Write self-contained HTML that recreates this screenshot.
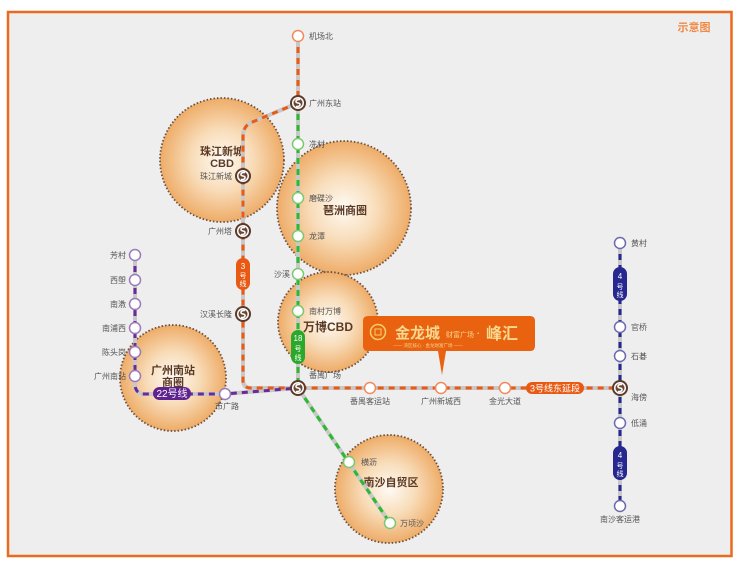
<!DOCTYPE html>
<html><head><meta charset="utf-8"><style>
html,body{margin:0;padding:0;background:#fff;}
svg{display:block}
text{font-family:"Liberation Sans","Noto Sans CJK SC",sans-serif;}
</style></head><body>
<svg width="740" height="566" viewBox="0 0 740 566" xmlns="http://www.w3.org/2000/svg">
<defs>
<radialGradient id="g" cx="50%" cy="50%" r="50%">
<stop offset="0" stop-color="#fefaf5"/>
<stop offset="0.5" stop-color="#f8dcb8"/>
<stop offset="1" stop-color="#eeac68"/>
</radialGradient>
<g id="ix"><circle r="8" fill="#5b3a29"/><circle r="6" fill="#fff"/><circle r="4.5" fill="#6b4633"/><path d="M2,-3.5 C-3,-4 -3,0 0,0 C3,0 3,4 -2,3.5" stroke="#fff" stroke-width="1.6" fill="none"/></g>
</defs>
<rect x="8" y="12" width="723.5" height="544" fill="#eeeeee" stroke="#ea6a1f" stroke-width="2.5"/>
<text x="694" y="31" font-size="11" fill="#f08a45" text-anchor="middle" font-weight="bold">示意图</text>

<g stroke="#6b5040" stroke-width="1.8" stroke-dasharray="1.5 2" fill="url(#g)">
<circle cx="222" cy="160" r="62"/>
<circle cx="344" cy="208" r="67"/>
<circle cx="328" cy="322" r="50"/>
<circle cx="173" cy="378" r="53"/>
<circle cx="389" cy="489" r="54"/>
</g>
<g font-weight="bold" fill="#5a3a25" font-size="11" text-anchor="middle">
<text x="222" y="155">珠江新城</text><text x="222" y="167">CBD</text>
<text x="345" y="214">琶洲商圈</text>
<text x="328" y="331" font-size="12">万博CBD</text>
<text x="173" y="374">广州南站</text><text x="173" y="386">商圈</text>
<text x="391" y="486">南沙自贸区</text>
</g>

<g stroke="#c8c8c8" stroke-width="4" fill="none">
<path d="M298,36 V388 L390,523"/>
<path d="M298,103 L250,123 Q243,127 243,137 V380 Q243,388 251,388 H620"/>
<path d="M135,255 V384 Q135,394 145,394 H225 L298,388"/>
<path d="M620,243 V506"/>
</g>
<g fill="none" stroke-width="3" stroke-dasharray="6 5">
<path d="M298,36 V103" stroke="#ea5a14"/>
<path d="M298,103 L250,123 Q243,127 243,137 V380 Q243,388 251,388 H620" stroke="#ea5a14"/>
<path d="M298,103 V388 L390,523" stroke="#2eb82e"/>
<path d="M135,255 V384 Q135,394 145,394 H225 L298,388" stroke="#6a2a9a"/>
<path d="M620,243 V506" stroke="#26288f"/>
</g>

<g fill="#fff" text-anchor="middle">
<rect x="236" y="258" width="14" height="32" rx="7" fill="#e85a14"/>
<text x="243" y="269" font-size="8">3</text>
<text x="243" y="278" font-size="7">号</text>
<text x="243" y="286" font-size="7">线</text>
<rect x="291" y="330" width="14" height="34" rx="7" fill="#2aa82a"/>
<text x="298" y="341" font-size="8">18</text>
<text x="298" y="351" font-size="7">号</text>
<text x="298" y="360" font-size="7">线</text>
<rect x="153" y="387" width="38" height="13" rx="6.5" fill="#5f2390"/>
<text x="172" y="397" font-size="10">22号线</text>
<rect x="526" y="382" width="58" height="12" rx="6" fill="#e85a14"/>
<text x="555" y="391.5" font-size="9">3号线东延段</text>
<rect x="613" y="267" width="14" height="34" rx="7" fill="#26288f"/>
<text x="620" y="279" font-size="8">4</text>
<text x="620" y="289" font-size="7">号</text>
<text x="620" y="297" font-size="7">线</text>
<rect x="613" y="446" width="14" height="34" rx="7" fill="#26288f"/>
<text x="620" y="458" font-size="8">4</text>
<text x="620" y="468" font-size="7">号</text>
<text x="620" y="476" font-size="7">线</text>
</g>

<g fill="#fff" stroke-width="1.5">
<circle cx="298" cy="36" r="5.5" stroke="#f08a5a"/>
<circle cx="370" cy="388" r="5.5" stroke="#f08a5a"/>
<circle cx="441" cy="388" r="5.5" stroke="#f08a5a"/>
<circle cx="505" cy="388" r="5.5" stroke="#f08a5a"/>
<g stroke="#7cc870">
<circle cx="298" cy="144" r="5.5"/><circle cx="298" cy="198" r="5.5"/><circle cx="298" cy="236" r="5.5"/>
<circle cx="298" cy="274" r="5.5"/><circle cx="298" cy="311" r="5.5"/><circle cx="349" cy="462" r="5.5"/><circle cx="390" cy="523" r="5.5"/>
</g>
<g stroke="#9a7ab8">
<circle cx="135" cy="255" r="5.5"/><circle cx="135" cy="280" r="5.5"/><circle cx="135" cy="304" r="5.5"/>
<circle cx="135" cy="328" r="5.5"/><circle cx="135" cy="352" r="5.5"/><circle cx="135" cy="376" r="5.5"/><circle cx="225" cy="394" r="5.5"/>
</g>
<g stroke="#6a6ab0">
<circle cx="620" cy="243" r="5.5"/><circle cx="620" cy="327" r="5.5"/><circle cx="620" cy="356" r="5.5"/>
<circle cx="620" cy="423" r="5.5"/><circle cx="620" cy="506" r="5.5"/>
</g>
</g>
<use href="#ix" x="298" y="103"/><use href="#ix" x="243" y="176"/><use href="#ix" x="243" y="231"/>
<use href="#ix" x="243" y="314"/><use href="#ix" x="298" y="388"/><use href="#ix" x="620" y="388"/>

<g font-size="8" fill="#555">
<text x="309" y="39">机场北</text><text x="309" y="106">广州东站</text>
<text x="309" y="147">冼村</text><text x="309" y="201">磨碟沙</text><text x="309" y="239">龙潭</text>
<text x="309" y="314">南村万博</text><text x="309" y="378">番禺广场</text>
<text x="361" y="465">横沥</text><text x="400" y="526">万顷沙</text>
<text x="631" y="246">黄村</text><text x="631" y="330">官桥</text><text x="631" y="359">石碁</text>
<text x="631" y="400">海傍</text><text x="631" y="426">低涌</text>
<g text-anchor="end">
<text x="232" y="179">珠江新城</text><text x="232" y="234">广州塔</text><text x="232" y="317">汉溪长隆</text>
<text x="290" y="277">沙溪</text>
<text x="126" y="258">芳村</text><text x="126" y="283">西塱</text><text x="126" y="307">南漖</text>
<text x="126" y="331">南浦西</text><text x="126" y="355">陈头岗</text><text x="126" y="379">广州南站</text>
</g>
<g text-anchor="middle">
<text x="227" y="409">市广路</text><text x="370" y="404">番禺客运站</text><text x="441" y="404">广州新城西</text>
<text x="505" y="404">金光大道</text><text x="620" y="522">南沙客运港</text>
</g>
</g>

<path d="M368,316 H530 Q535,316 535,321 V346 Q535,351 530,351 H446 L442,375 L438,351 H368 Q363,351 363,346 V321 Q363,316 368,316 Z" fill="#e8620f"/>
<circle cx="378" cy="332" r="7.5" fill="none" stroke="#f6cf6a" stroke-width="1.5"/>
<rect x="375" y="329" width="6" height="6" fill="none" stroke="#f6cf6a"/>
<text x="395" y="338" font-size="15" font-weight="bold" fill="#f8d890" font-family="'Noto Serif CJK SC',serif">金龙城</text>
<text x="446" y="337" font-size="7" fill="#f8d890">财富广场</text>
<text x="476" y="337" font-size="13" fill="#f8d890">·</text>
<text x="486" y="339" font-size="16" font-weight="bold" fill="#f8d890" font-family="'Noto Serif CJK SC',serif">峰汇</text>
<text x="428" y="347" font-size="4.5" fill="#f8d890" text-anchor="middle">—— 湾区核心 · 金龙财富广场 ——</text>
</svg>
</body></html>
